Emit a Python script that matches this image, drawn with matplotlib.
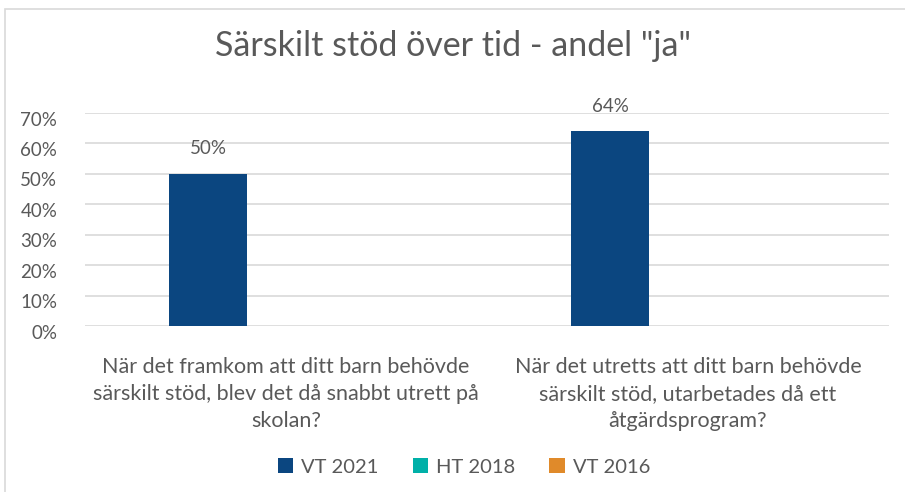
import numpy as np
import matplotlib.pyplot as plt
import matplotlib.transforms as mtransforms
from matplotlib.patches import Rectangle

plt.rcParams["font.family"] = ["Lato", "DejaVu Sans"]

categories = [
    "När det framkom att ditt barn behövde\nsärskilt stöd, blev det då snabbt utrett på\nskolan?",
    "När det utretts att ditt barn behövde\nsärskilt stöd, utarbetades då ett\nåtgärdsprogram?",
]
series = ["VT 2021", "HT 2018", "VT 2016"]
vt2021 = [0.50, 0.64]
ht2018 = [np.nan, np.nan]
vt2016 = [np.nan, np.nan]
colors = ["#0B4680", "#00B0A8", "#E08A2A"]
TXT = "#595959"

fig = plt.figure(figsize=(9.05, 4.92), dpi=100)
fig.patches.append(Rectangle((5 / 905, -0.1), 1.2, (492 - 9) / 492 + 0.1,
                             transform=fig.transFigure, fill=False,
                             edgecolor="#D9D9D9", lw=1.2))

ax = fig.add_axes([85 / 905, 1 - 326 / 492, (889 - 85) / 905, (326 - 113) / 492])
x = np.arange(len(categories))
w = 0.194
for i, (name, vals) in enumerate(zip(series, [vt2021, ht2018, vt2016])):
    pos = x + (i - 1) * w
    ax.bar(pos, np.nan_to_num(vals), width=w, color=colors[i], label=name)
    for p, v in zip(pos, vals):
        if not np.isnan(v):
            ax.text(p, v + 0.055, f"{v:.0%}", ha="center", va="bottom",
                    fontsize=13.5, color=TXT)

ax.set_xlim(-0.5, 1.5)
ax.set_ylim(0, 0.70)
ticks = np.arange(0, 0.71, 0.1)
ax.set_yticks(ticks)
ax.set_yticklabels([f"{int(round(t * 100))}%" for t in ticks])
ax.yaxis.grid(True, color="#D9D9D9", lw=1.2)
ax.set_axisbelow(True)
for s in ax.spines.values():
    s.set_visible(False)
ax.tick_params(axis="y", length=0, labelsize=13.5, labelcolor=TXT, pad=20)
# Excel draws the value labels slightly below their gridlines
shift = mtransforms.ScaledTranslation(0, -4 / 72, fig.dpi_scale_trans)
for lbl in ax.get_yticklabels():
    lbl.set_transform(lbl.get_transform() + shift)
ax.set_xticks(x)
ax.set_xticklabels(categories, fontsize=15.5, color=TXT, linespacing=1.45)
ax.tick_params(axis="x", length=0, pad=22)

fig.text(0.5, 1 - 46 / 492, 'Särskilt stöd över tid - andel "ja"', ha="center",
         va="center", fontsize=24.5, color=TXT)

fig.legend(loc="center", bbox_to_anchor=(464 / 905, 1 - 467 / 492), ncol=3,
           frameon=False, fontsize=14.5, labelcolor=TXT, handlelength=0.75,
           handleheight=0.75, columnspacing=1.7, handletextpad=0.4)

fig.savefig("out.png", dpi=100)
